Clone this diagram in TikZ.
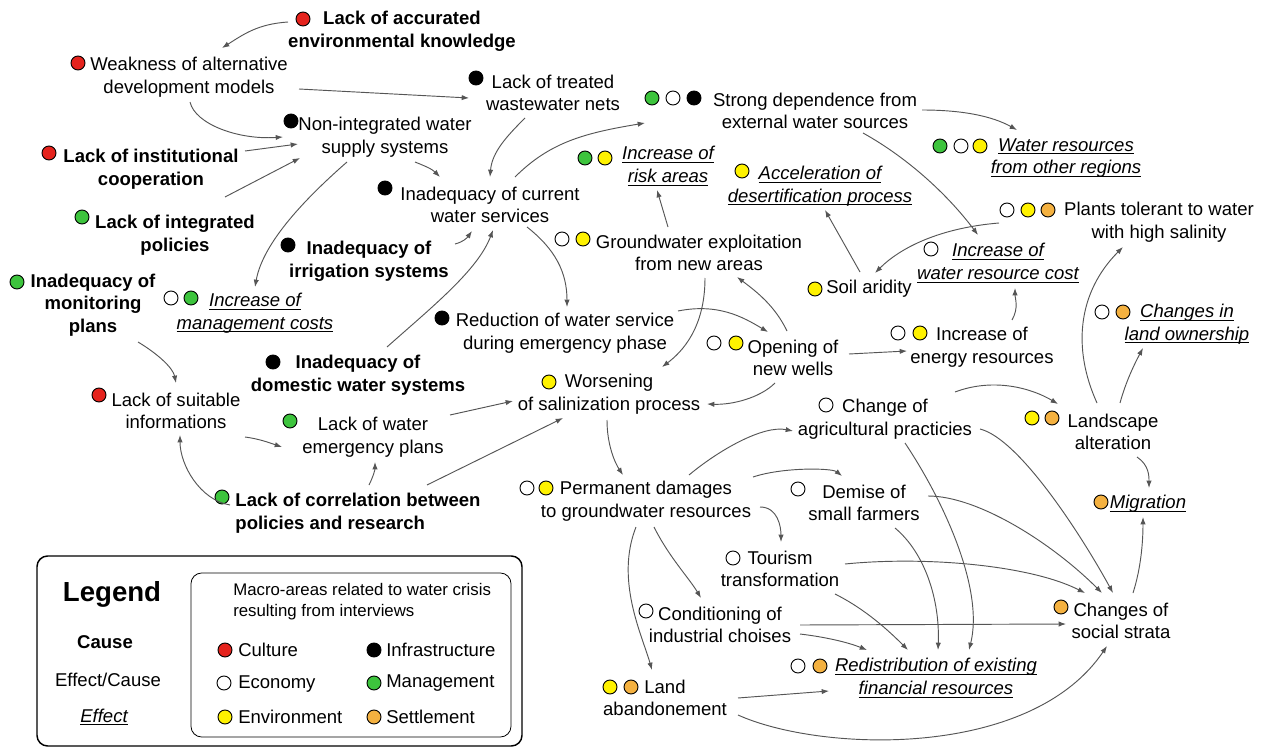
\documentclass[tikz,border=0pt]{standalone}
\usepackage{fontspec}
\setmainfont{Liberation Sans}
\usetikzlibrary{arrows.meta}
\definecolor{cRed}{HTML}{E5231D}
\definecolor{cGreen}{HTML}{3DC43D}
\definecolor{cYel}{HTML}{FFF200}
\definecolor{cOra}{HTML}{F4B140}
\definecolor{lineg}{HTML}{555555}
\newcommand\mainfs{\fontsize{13.9pt}{17pt}\selectfont}
\newcommand\efx[1]{\begingroup\setbox0\hbox{#1}\leavevmode\rlap{\rule[-2.3pt]{\wd0}{0.7pt}}\box0\endgroup}
\begin{document}
\begin{tikzpicture}[x=0.75pt,y=-0.75pt,
  t/.style={align=center, inner sep=0pt, font=\mainfs},
  tb/.style={t, font=\mainfs\bfseries},
  te/.style={t, font=\mainfs\itshape},
  lt/.style={anchor=west, inner sep=0pt, font=\mainfs},
  dot/.style={circle, draw=black, line width=0.7pt, fill=#1, minimum size=10.5pt, inner sep=0pt},
  arr/.style={draw=lineg, line width=0.7pt, -{Latex[length=5.5pt,width=4pt]}}]
\useasboundingbox (0,0) rectangle (1265,749);
\fill[white] (0,0) rectangle (1265,749);

% ---------- causes (bold)
\node[tb] (acc) at (402,31) {Lack of accurated\\environmental knowledge};
\node[tb] (inst) at (151,169) {Lack of institutional\\cooperation};
\node[tb] (integ) at (175,235) {Lack of integrated\\policies};
\node[tb] (irr) at (369,261) {Inadequacy of\\irrigation systems};
\node[tb] (mon) at (93,305) {Inadequacy of\\monitoring\\plans};
\node[tb] (dom) at (358,375) {Inadequacy of\\domestic water systems};
\node[tb, align=left] (corr) at (358,513) {Lack of correlation between\\policies and research};

% ---------- effect/cause
\node[t] (weak) at (189,77) {Weakness of alternative\\development models};
\node[t] (treat) at (553,93) {Lack of treated\\wastewater nets};
\node[t] (strong) at (815,111) {Strong dependence from\\external water sources};
\node[t] (nonint) at (385,137) {Non-integrated water\\supply systems};
\node[t] (cur) at (490,205) {Inadequacy of current\\water services};
\node[t] (plants) at (1159,222) {Plants tolerant to water\\with high salinity};
\node[t] (gw) at (699,253) {Groundwater exploitation\\from new areas};
\node[t] (soil) at (869,289) {Soil aridity};
\node[t] (redu) at (565,333) {Reduction of water service\\during emergency phase};
\node[t] (energy) at (982,347) {Increase of\\energy resources};
\node[t] (wells) at (793,358) {Opening of\\new wells};
\node[t] (wors) at (609,394) {Worsening\\of salinization process};
\node[t] (info) at (176,411) {Lack of suitable\\informations};
\node[t] (agri) at (885,419) {Change of\\agricultural practicies};
\node[t] (land) at (1113,432) {Landscape\\alteration};
\node[t] (emerg) at (373,437) {Lack of water\\emergency plans};
\node[t] (perm) at (646,501) {Permanent damages\\to groundwater resources};
\node[t] (demise) at (864,503) {Demise of\\small farmers};
\node[t] (tour) at (780,569) {Tourism\\transformation};
\node[t] (strata) at (1121,621) {Changes of\\social strata};
\node[t] (cond) at (720,625) {Conditioning of\\industrial choises};
\node[t] (landab) at (665,698) {Land\\abandonement};

% ---------- effects (italic, underlined)
\node[te] (risk) at (668,166) {\efx{Increase of}\\\efx{risk areas}};
\node[te] (wreg) at (1066,158) {\efx{Water resources}\\\efx{from other regions}};
\node[te] (accel) at (820,186) {\efx{Acceleration of}\\\efx{desertification process}};
\node[te] (wcost) at (998,263) {\efx{Increase of}\\\efx{water resource cost}};
\node[te] (mcost) at (255,313) {\efx{Increase of}\\\efx{management costs}};
\node[te] (own) at (1187,324) {\efx{Changes in}\\\efx{land ownership}};
\node[te] (migr) at (1148,504) {\efx{Migration}};
\node[te] (redis) at (936,678) {\efx{Redistribution of existing}\\\efx{financial resources}};

% ---------- dots
\node[dot=cRed] (acc-d) at (303,19) {};
\node[dot=cRed] (weak-d) at (78,63) {};
\node[dot=black] (treat-d) at (476,78) {};
\node[dot=cGreen] (strong-d1) at (652,98) {};
\node[dot=white] (strong-d2) at (673,98) {};
\node[dot=black] (strong-d3) at (694,98) {};
\node[dot=black] (nonint-d) at (291,121) {};
\node[dot=cRed] (inst-d) at (49,153) {};
\node[dot=cGreen] (risk-d1) at (585,158) {};
\node[dot=cYel] (risk-d2) at (605,158) {};
\node[dot=cGreen] (wreg-d1) at (940,146) {};
\node[dot=white] (wreg-d2) at (961,146) {};
\node[dot=cYel] (wreg-d3) at (980,146) {};
\node[dot=cYel] (accel-d) at (742,171) {};
\node[dot=black] (cur-d) at (385,188) {};
\node[dot=white] (plants-d1) at (1007,210) {};
\node[dot=cYel] (plants-d2) at (1028,210) {};
\node[dot=cOra] (plants-d3) at (1048,210) {};
\node[dot=cGreen] (integ-d) at (82,217) {};
\node[dot=white] (gw-d1) at (562,239) {};
\node[dot=cYel] (gw-d2) at (583,239) {};
\node[dot=black] (irr-d) at (288,245) {};
\node[dot=white] (wcost-d) at (931,249) {};
\node[dot=cYel] (soil-d) at (815,289) {};
\node[dot=cGreen] (mon-d) at (17,282) {};
\node[dot=white] (mcost-d1) at (171,298) {};
\node[dot=cGreen] (mcost-d2) at (191,298) {};
\node[dot=white] (own-d1) at (1102,312) {};
\node[dot=cOra] (own-d2) at (1123,312) {};
\node[dot=black] (redu-d) at (442,318) {};
\node[dot=white] (energy-d1) at (898,333) {};
\node[dot=cYel] (energy-d2) at (920,333) {};
\node[dot=white] (wells-d1) at (714,343) {};
\node[dot=cYel] (wells-d2) at (736,343) {};
\node[dot=black] (dom-d) at (273,362) {};
\node[dot=cYel] (wors-d) at (549,382) {};
\node[dot=cRed] (info-d) at (99,395) {};
\node[dot=white] (agri-d) at (826,405) {};
\node[dot=cYel] (land-d1) at (1032,418) {};
\node[dot=cOra] (land-d2) at (1052,418) {};
\node[dot=cGreen] (emerg-d) at (290,421) {};
\node[dot=white] (perm-d1) at (527,488) {};
\node[dot=cYel] (perm-d2) at (546,488) {};
\node[dot=white] (demise-d) at (798,489) {};
\node[dot=cGreen] (corr-d) at (222,497) {};
\node[dot=cOra] (migr-d) at (1101,502) {};
\node[dot=white] (tour-d) at (733,558) {};
\node[dot=cOra] (strata-d) at (1061,607) {};
\node[dot=white] (cond-d) at (646,611) {};
\node[dot=white] (redis-d1) at (798,666) {};
\node[dot=cOra] (redis-d2) at (820,666) {};
\node[dot=cYel] (landab-d1) at (610,687) {};
\node[dot=cOra] (landab-d2) at (631,687) {};

% ---------- connectors
\draw[arr] ([shift={(-114,-9)}]acc.center) .. controls +(-30,2) and +(22,-14) .. ([shift={(33,-29)}]weak.center);
\draw[arr] ([shift={(110,12)}]weak.center) -- ([shift={(-84,5)}]treat.center);
\draw[arr] ([shift={(1,25)}]weak.center) .. controls +(5,22) and +(-45,3) .. ([shift={(-102,0)}]nonint.center);
\draw[arr] ([shift={(94,-18)}]inst.center) -- ([shift={(-87,7)}]nonint.center);
\draw[arr] ([shift={(50,-38)}]integ.center) -- ([shift={(-85,21)}]nonint.center);
\draw[arr] ([shift={(-38,25)}]nonint.center) .. controls +(-40,35) and +(8,-45) .. ([shift={(0,-26)}]mcost.center);
\draw[arr] ([shift={(30,25)}]nonint.center) .. controls +(10,4) and +(-8,-8) .. ([shift={(-50,-28)}]cur.center);
\draw[arr] ([shift={(-28,25)}]treat.center) .. controls +(-18,18) and +(2,-25) .. ([shift={(0,-28)}]cur.center);
\draw[arr] ([shift={(25,-28)}]cur.center) .. controls +(35,-35) and +(-60,10) .. ([shift={(-170,12)}]strong.center);
\draw[arr] ([shift={(86,-17)}]irr.center) .. controls +(8,-2) and +(-5,7) .. ([shift={(-18,26)}]cur.center);
\draw[arr] ([shift={(29,-28)}]dom.center) .. controls +(45,-40) and +(-15,40) .. ([shift={(3,25)}]cur.center);
\draw[arr] ([shift={(37,22)}]cur.center) .. controls +(28,22) and +(0,-35) .. ([shift={(2,-26)}]redu.center);
\draw[arr] ([shift={(-31,-26)}]gw.center) -- ([shift={(-11,24)}]risk.center);
\draw[arr] ([shift={(-9,-17)}]soil.center) -- ([shift={(5,24)}]accel.center);
\draw[arr] ([shift={(107,-1)}]strong.center) .. controls +(40,0) and +(-25,-14) .. ([shift={(-49,-28)}]wreg.center);
\draw[arr] ([shift={(48,22)}]strong.center) .. controls +(45,25) and +(-30,-40) .. ([shift={(-20,-28)}]wcost.center);
\draw[arr] ([shift={(-160,1)}]plants.center) .. controls +(-60,5) and +(25,-25) .. ([shift={(6,-16)}]soil.center);
\draw[arr] ([shift={(30,-27)}]energy.center) .. controls +(7,-12) and +(0,10) .. ([shift={(17,25)}]wcost.center);
\draw[arr] ([shift={(-16,-29)}]land.center) .. controls +(-25,-55) and +(-45,45) .. ([shift={(-36,25)}]plants.center);
\draw[arr] ([shift={(7,-29)}]land.center) .. controls +(6,-22) and +(-8,15) .. ([shift={(-44,24)}]own.center);
\draw[arr] ([shift={(24,25)}]land.center) .. controls +(12,8) and +(0,-12) .. ([shift={(1,-16)}]migr.center);
\draw[arr] ([shift={(12,-28)}]strata.center) .. controls +(8,-25) and +(0,25) .. ([shift={(-5,13)}]migr.center);
\draw[arr] ([shift={(70,-27)}]agri.center) .. controls +(40,-15) and +(-25,-15) .. ([shift={(-55,-28)}]land.center);
\draw[arr] ([shift={(113,-22)}]redu.center) .. controls +(40,-8) and +(-25,-15) .. ([shift={(-25,-26)}]wells.center);
\draw[arr] ([shift={(6,25)}]gw.center) .. controls +(0,50) and +(20,-15) .. ([shift={(53,-27)}]wors.center);
\draw[arr] ([shift={(-6,-27)}]wells.center) .. controls +(-12,-25) and +(20,15) .. ([shift={(38,24)}]gw.center);
\draw[arr] ([shift={(56,-4)}]wells.center) -- ([shift={(-75,4)}]energy.center);
\draw[arr] ([shift={(-18,25)}]wells.center) .. controls +(-15,15) and +(25,1) .. ([shift={(98,10)}]wors.center);
\draw[arr] ([shift={(77,-22)}]emerg.center) -- ([shift={(-96,7)}]wors.center);
\draw[arr] ([shift={(69,-28)}]corr.center) -- ([shift={(-46,24)}]wors.center);
\draw[arr] ([shift={(11,-28)}]corr.center) .. controls +(4,-8) and +(0,8) .. ([shift={(2,25)}]emerg.center);
\draw[arr] ([shift={(-128,-8)}]corr.center) .. controls +(-30,-5) and +(0,30) .. ([shift={(4,24)}]info.center);
\draw[arr] ([shift={(45,37)}]mon.center) .. controls +(20,12) and +(-3,-15) .. ([shift={(0,-28)}]info.center);
\draw[arr] ([shift={(69,26)}]info.center) .. controls +(15,2) and +(-12,-4) .. ([shift={(-91,10)}]emerg.center);
\draw[arr] ([shift={(-2,26)}]wors.center) .. controls +(0,25) and +(-8,-12) .. ([shift={(-23,-26)}]perm.center);
\draw[arr] ([shift={(43,-26)}]perm.center) .. controls +(30,-25) and +(-30,-6) .. ([shift={(-92,12)}]agri.center);
\draw[arr] ([shift={(107,-24)}]perm.center) .. controls +(30,-10) and +(-10,-8) .. ([shift={(-22,-27)}]demise.center);
\draw[arr] ([shift={(114,6)}]perm.center) .. controls +(18,0) and +(0,-15) .. ([shift={(1,-27)}]tour.center);
\draw[arr] ([shift={(8,26)}]perm.center) .. controls +(15,30) and +(-12,-20) .. ([shift={(-19,-27)}]cond.center);
\draw[arr] ([shift={(-10,26)}]perm.center) .. controls +(-21,53) and +(-10,-35) .. ([shift={(-13,-28)}]landab.center);
\draw[arr] ([shift={(80,9)}]cond.center) .. controls +(25,3) and +(-20,-8) .. ([shift={(-69,-28)}]redis.center);
\draw[arr] ([shift={(80,0)}]cond.center) -- ([shift={(-55,3)}]strata.center);
\draw[arr] ([shift={(55,25)}]tour.center) .. controls +(30,15) and +(-20,-20) .. ([shift={(-28,-28)}]redis.center);
\draw[arr] ([shift={(65,-5)}]tour.center) .. controls +(80,-8) and +(-55,-28) .. ([shift={(-36,-28)}]strata.center);
\draw[arr] ([shift={(31,25)}]demise.center) .. controls +(30,25) and +(2,-50) .. ([shift={(2,-28)}]redis.center);
\draw[arr] ([shift={(64,-7)}]demise.center) .. controls +(50,0) and +(-50,-50) .. ([shift={(-19,-28)}]strata.center);
\draw[arr] ([shift={(20,24)}]agri.center) .. controls +(40,60) and +(15,-60) .. ([shift={(33,-28)}]redis.center);
\draw[arr] ([shift={(95,10)}]agri.center) .. controls +(40,10) and +(-30,-55) .. ([shift={(-8,-28)}]strata.center);
\draw[arr] ([shift={(73,0)}]landab.center) -- ([shift={(-107,13)}]redis.center);
\draw[arr] ([shift={(73,17)}]landab.center) .. controls +(82,37) and +(-77,114) .. ([shift={(-14,25)}]strata.center);

% ---------- legend
\draw[line width=1.1pt, rounded corners=8pt] (37,556) rectangle (522,746);
\draw[line width=0.6pt, rounded corners=8pt] (191,573) rectangle (511,737);
\node[inner sep=0pt, font=\fontsize{20.7pt}{24pt}\selectfont\bfseries] (lg) at (112,594) {Legend};
\node[tb] (lgc) at (105,642) {Cause};
\node[t] (lgec) at (108,680) {Effect/Cause};
\node[te] (lge) at (104,717) {\efx{Effect}};
\node[anchor=west, align=left, inner sep=0pt, font=\fontsize{12.6pt}{15.6pt}\selectfont] (lgm) at (233,602) {Macro-areas related to water crisis\\resulting from interviews};
\node[dot=cRed] (lg-d1) at (225,650) {};
\node[lt] (lg-t1) at (238,650) {Culture};
\node[dot=black] (lg-d2) at (374,650) {};
\node[lt] (lg-t2) at (386,650) {Infrastructure};
\node[dot=white] (lg-d3) at (224,683) {};
\node[lt] (lg-t3) at (238,684) {Economy};
\node[dot=cGreen] (lg-d4) at (374,683) {};
\node[lt] (lg-t4) at (386,683) {Management};
\node[dot=cYel] (lg-d5) at (225,717) {};
\node[lt] (lg-t5) at (238,717) {Environment};
\node[dot=cOra] (lg-d6) at (374,717) {};
\node[lt] (lg-t6) at (386,717) {Settlement};
\end{tikzpicture}
\end{document}
